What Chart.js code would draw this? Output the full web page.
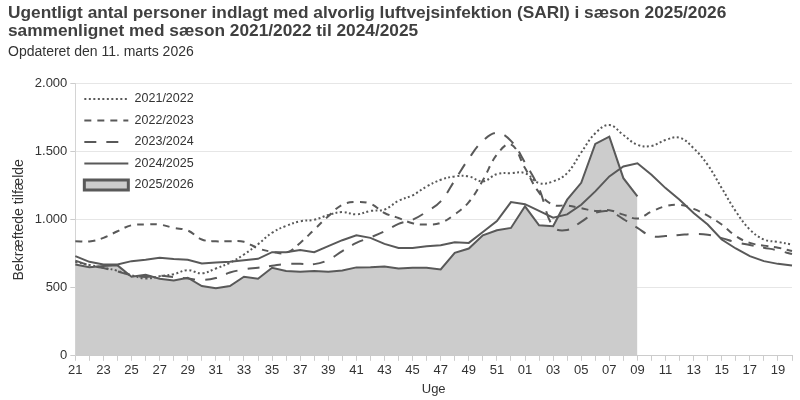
<!DOCTYPE html>
<html lang="da">
<head>
<meta charset="utf-8">
<title>SARI indlæggelser</title>
<script src="https://cdn.jsdelivr.net/npm/chart.js"></script>
<style>
  html, body { margin: 0; padding: 0; background: #fff; }
  #content { width: 800px; height: 400px; }
</style>
</head>
<body>
<div id="content"><canvas id="canvas" width="800" height="400"></canvas></div>
<script>
const weeks = ['21','22','23','24','25','26','27','28','29','30','31','32','33','34','35','36',
  '37','38','39','40','41','42','43','44','45','46','47','48','49','50','51','52',
  '01','02','03','04','05','06','07','08','09','10','11','12','13','14','15','16','17','18','19','20']

const yTicks = [0, 500, 1000, 1500, 2000]

const s2122 = [690, 668, 648, 625, 592, 568, 585, 600, 630, 606, 642, 684, 745, 820, 905, 955,
  989, 1000, 1035, 1057, 1040, 1065, 1075, 1140, 1180, 1245, 1294, 1319, 1319, 1282, 1336, 1343,
  1343, 1270, 1282, 1343, 1495, 1636, 1697, 1624, 1551, 1543, 1587, 1604, 1526, 1404, 1233, 1062, 928, 855, 837, 818]

const s2223 = [842, 841, 867, 916, 960, 965, 965, 940, 921, 855, 842, 842, 838, 790, 765, 757,
  830, 928, 1026, 1111, 1131, 1118, 1050, 1013, 975, 965, 977, 1040, 1130, 1290, 1480, 1555,
  1380, 1200, 1110, 1105, 1085, 1065, 1070, 1038, 1010, 1060, 1100, 1110, 1080, 1030, 965, 880, 830, 810, 795, 770]

const s2324 = [700, 665, 645, 620, 592, 580, 588, 578, 568, 558, 572, 612, 635, 648, 662, 675,
  676, 674, 705, 770, 830, 870, 915, 970, 1000, 1060, 1135, 1290, 1450, 1580, 1640, 1580,
  1420, 1230, 950, 925, 985, 1050, 1062, 1005, 940, 880, 880, 888, 895, 890, 865, 835, 815, 795, 775, 748]

const s2425 = [733, 691, 672, 672, 696, 706, 720, 711, 706, 679, 686, 691, 703, 713, 762, 762,
  777, 762, 806, 850, 886, 867, 823, 793, 793, 806, 813, 835, 830, 910, 990, 1130,
  1115, 1065, 1015, 1040, 1110, 1209, 1319, 1392, 1416, 1331, 1233, 1148, 1050, 965, 855, 789, 733, 696, 676, 664]

// current season, only up to week 09
const s2526 = [672, 652, 660, 665, 581, 596, 566, 554, 574, 513, 496, 513, 581, 566, 647, 623,
  618, 623, 618, 628, 650, 651, 657, 642, 647, 647, 635, 757, 789, 886, 923, 940,
  1099, 960, 952, 1148, 1272, 1558, 1612, 1306, 1172]

const FONT = "'Liberation Sans', Arial, sans-serif"
const LINE = '#595959'
const TXT = '#333333'

function punktum(v) {
  return String(v).replace(/\B(?=(\d{3})+(?!\d))/g, '.')
}

function linje(label, values, dash, tension) {
  return {
    label: label,
    data: values,
    borderColor: LINE,
    backgroundColor: LINE,
    borderWidth: 2,
    borderDash: dash,
    tension: tension,
    pointRadius: 0,
    pointStyle: 'line',
    fill: false,
  }
}

// vertical legend inside the plot: chart.js puts it at top 0, move it down to the chart area
const legendInside = {
  id: 'legendInside',
  afterLayout: function (chart) {
    const lg = chart.legend
    if (!lg) return
    const dy = chart.chartArea.top - lg.top
    lg.top += dy
    lg.bottom += dy
  },
}

const data = {
  labels: weeks,
  datasets: [
    linje('2021/2022', s2122, [2, 2.5], 0.4),
    linje('2022/2023', s2223, [7, 6], 0.4),
    linje('2023/2024', s2324, [12, 10], 0.4),
    linje('2024/2025', s2425, [], 0),
    {
      label: '2025/2026',
      data: s2526,
      borderColor: LINE,
      backgroundColor: '#cccccc',
      borderWidth: 2,
      pointRadius: 0,
      pointStyle: 'rect',
      fill: 'origin',
      tension: 0,
    },
  ],
}

const config = {
  type: 'line',
  data: data,
  plugins: [legendInside],
  options: {
    responsive: false,
    animation: false,
    layout: { padding: { left: 8, top: 4, right: 8, bottom: 3 } },
    plugins: {
      tooltip: { enabled: false },
      title: {
        display: true,
        align: 'start',
        text: ['Ugentligt antal personer indlagt med alvorlig luftvejsinfektion (SARI) i sæson 2025/2026',
               'sammenlignet med sæson 2021/2022 til 2024/2025'],
        color: '#404040',
        font: { family: FONT, size: 17.3, weight: 'bold', lineHeight: 1.04 },
        padding: { top: 0, bottom: 4 },
      },
      subtitle: {
        display: true,
        align: 'start',
        text: 'Opdateret den 11. marts 2026',
        color: TXT,
        font: { family: FONT, size: 14, lineHeight: 1.2 },
        padding: { top: 0, bottom: 23 },
      },
      legend: {
        position: 'chartArea',
        align: 'start',
        labels: {
          usePointStyle: true,
          pointStyleWidth: 44,
          boxHeight: 10,
          padding: 9,
          color: TXT,
          font: { family: FONT, size: 12.5 },
          generateLabels: function (chart) {
            const items = Chart.defaults.plugins.legend.labels.generateLabels(chart)
            items.forEach(function (it) {
              const ds = chart.data.datasets[it.datasetIndex]
              it.lineDash = ds.borderDash || []
              it.lineWidth = 2
              it.strokeStyle = LINE
            })
            items[items.length - 1].lineWidth = 3
            return items
          },
        },
      },
    },
    scales: {
      x: {
        type: 'category',
        grid: { display: true, drawOnChartArea: false, color: '#cccccc', tickLength: 5 },
        border: { color: '#cccccc' },
        ticks: {
          autoSkip: false,
          maxRotation: 0,
          padding: 2,
          color: TXT,
          font: { family: FONT, size: 13 },
          callback: function (value, index) {
            return index % 2 === 0 ? this.getLabelForValue(value) : ''
          },
        },
        title: { display: true, text: 'Uge', color: TXT, font: { family: FONT, size: 13 }, padding: { top: 1, bottom: 0 } },
      },
      y: {
        min: yTicks[0],
        max: yTicks[yTicks.length - 1],
        afterBuildTicks: function (axis) {
          axis.ticks = yTicks.map(function (v) { return { value: v } })
        },
        grid: { color: '#e6e6e6', tickColor: '#cccccc', tickLength: 5 },
        border: { color: '#d4d4d4' },
        ticks: {
          padding: 3,
          color: TXT,
          font: { family: FONT, size: 13 },
          callback: function (v) { return punktum(v) },
        },
        title: { display: true, text: 'Bekræftede tilfælde', color: TXT, font: { family: FONT, size: 14 }, padding: { top: 3, bottom: 4 } },
      },
    },
  },
}

const canvas = document.getElementById('canvas')
const chart = new Chart(canvas, config)
</script>
</body>
</html>
